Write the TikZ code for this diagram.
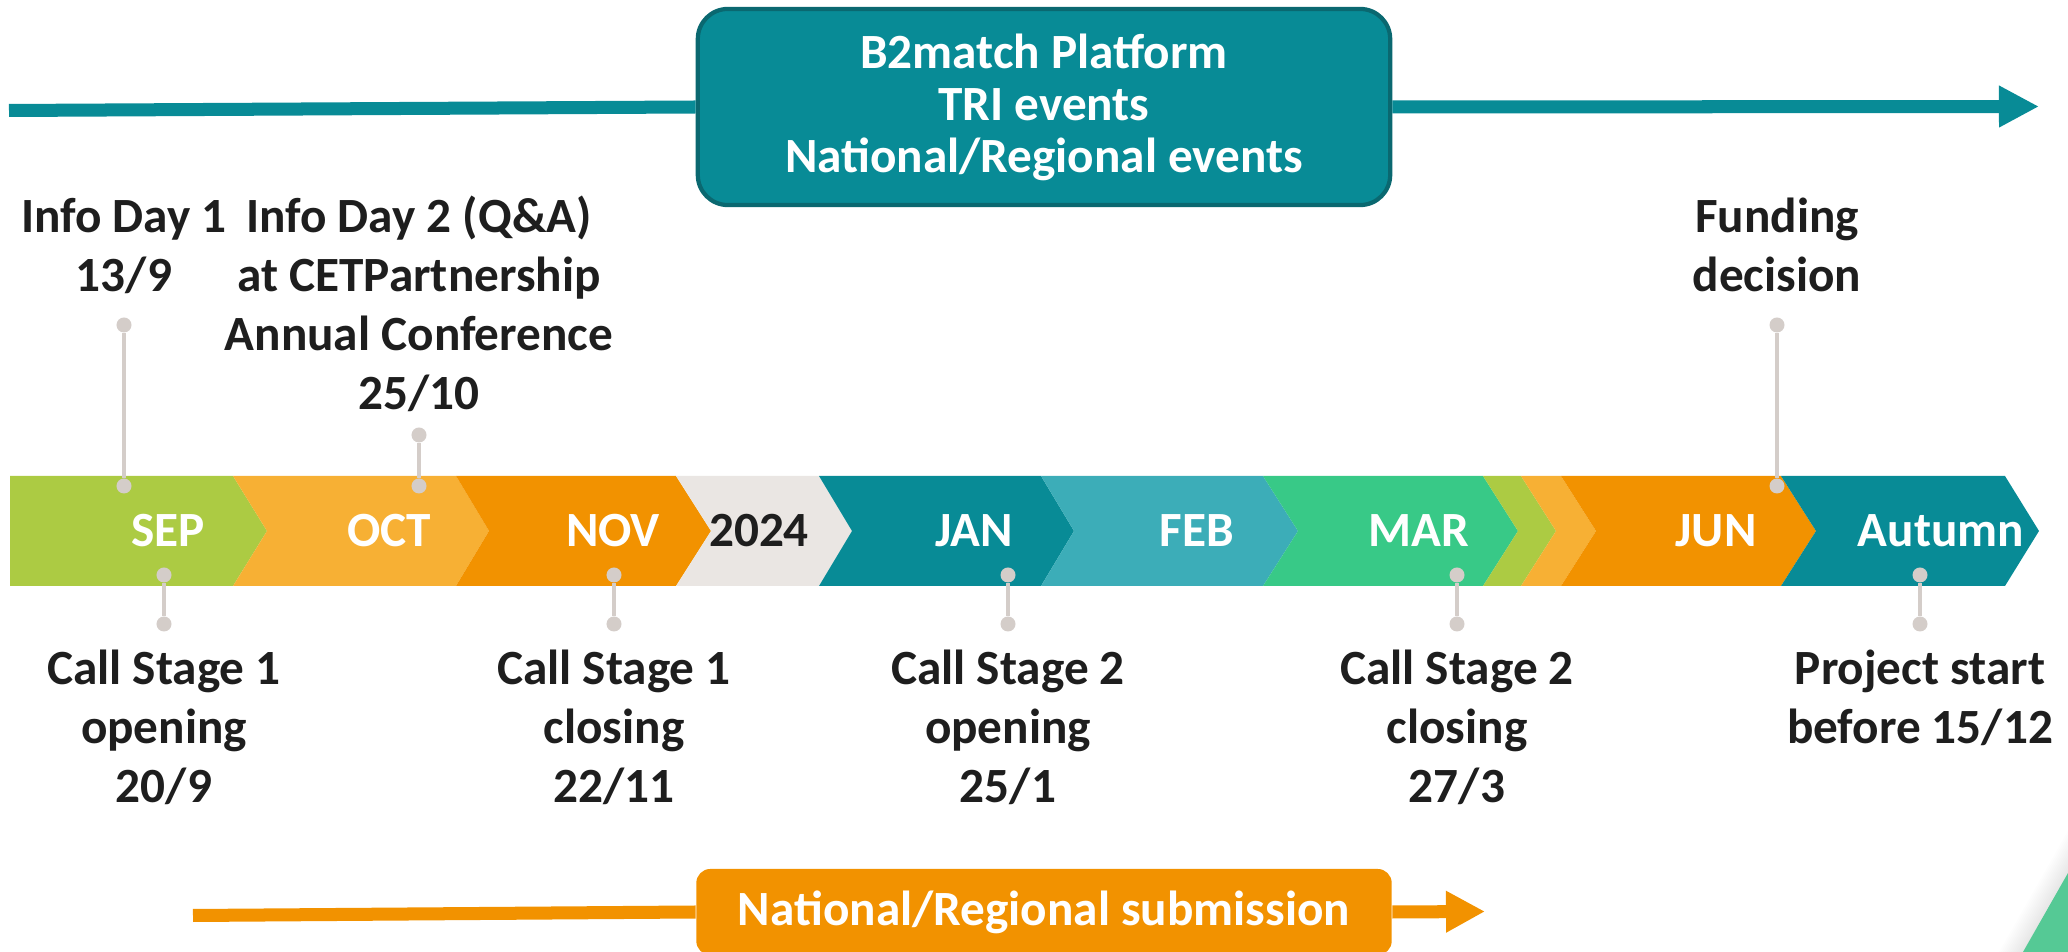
\documentclass[tikz,border=0pt]{standalone}
\usepackage{fontspec}
\setmainfont{Carlito}
\usetikzlibrary{arrows.meta}
\definecolor{tealD}{RGB}{8,139,150}
\definecolor{tealL}{RGB}{60,173,184}
\definecolor{tealB}{RGB}{10,104,112}
\definecolor{limeG}{RGB}{172,203,67}
\definecolor{orangeL}{RGB}{247,176,52}
\definecolor{orangeD}{RGB}{242,146,0}
\definecolor{grayL}{RGB}{234,230,227}
\definecolor{greenM}{RGB}{56,201,135}
\definecolor{pinG}{RGB}{212,205,201}
\definecolor{ink}{RGB}{30,30,30}
\definecolor{cornerG}{RGB}{85,201,149}
\begin{document}
\begin{tikzpicture}[x=0.01cm, y=-0.01cm,
		lbl/.style={font=\bfseries\fontsize{14}{16.8}\selectfont, text=ink, align=center, inner sep=0pt, anchor=base},
		mon/.style={font=\bfseries\fontsize{14}{16.8}\selectfont, text=white, inner sep=0pt, anchor=base},
		pindot/.style={circle, fill=pinG, inner sep=0pt, minimum size=0.15cm},
		pinline/.style={draw=pinG, line width=1pt},
		platbox/.style={draw=tealB, line width=1.2pt, fill=tealD, rounded corners=0.3cm, minimum width=6.92cm, minimum height=1.96cm, align=center, text=white, font=\bfseries\fontsize{14}{14.8}\selectfont},
		subbox/.style={fill=orangeD, rounded corners=0.14cm, minimum width=6.95cm, minimum height=0.86cm, inner sep=0pt, text=white, font=\bfseries\fontsize{14}{16.8}\selectfont},
		tealarrow/.style={draw=tealD, line width=0.13cm},
		orarrow/.style={draw=orangeD, line width=0.13cm}]
		\useasboundingbox (0,0) rectangle (2068,952);
		\foreach \l/\n/\c/\t/\col in {10/10/233/267/limeG, 233/267/456/489/orangeL, 456/489/676/711/orangeD, 676/711/819/852/grayL, 819/852/1041/1074/tealD, 1041/1074/1263/1298/tealL, 1263/1298/1483/1518/greenM, 1483/1518/1521/1556/limeG, 1521/1556/1561/1596/orangeL, 1561/1596/1781/1816/orangeD, 1781/1816/2005/2039/tealD}{
			\fill[\col] (\l,476) -- (\c,476) -- (\t,531) -- (\c,586) -- (\l,586) -- (\n,531) -- cycle;}
		\foreach \x/\txt/\tc [count=\i] in {168/SEP/white, 389/OCT/white, 613/NOV/white, 759/2024/ink, 974/JAN/white, 1197/FEB/white, 1419/MAR/white, 1716/JUN/white, 1941/Autumn/white}{
			\node[mon, text=\tc] (m\i) at (\x,547) {\txt};}
		\foreach \x/\ya/\yb [count=\i] in {124/325/486, 419/435/486, 1777/325/486, 164/575/624, 614/575/624, 1008/575/624, 1457/575/624, 1920/575/624}{
			\node[pindot] (pa\i) at (\x,\ya) {};
			\node[pindot] (pb\i) at (\x,\yb) {};
			\draw[pinline] (pa\i) -- (pb\i);}
		\node[lbl] (info1) at (124,292) {Info Day 1\\13/9};
		\node[lbl] (info2) at (419,410) {Info Day 2 (Q\&A)\\at CETPartnership\\Annual Conference\\25/10};
		\node[lbl] (fund) at (1777,292) {Funding\\decision};
		\node[lbl] (open1) at (164,803) {Call Stage 1\\opening\\20/9};
		\node[lbl] (close1) at (614,803) {Call Stage 1\\closing\\22/11};
		\node[lbl] (open2) at (1008,803) {Call Stage 2\\opening\\25/1};
		\node[lbl] (close2) at (1457,803) {Call Stage 2\\closing\\27/3};
		\node[lbl] (start) at (1920,744) {Project start\\before 15/12};
		\node[platbox] (plat) at (1044,107) {B2match Platform\\TRI events\\National/Regional events};
		\coordinate (tl) at (9,110.5);
		\coordinate (tr) at (2039,106.5);
		\draw[tealarrow] (tl) -- (plat.west);
		\draw[tealarrow, -{Triangle[length=0.40cm, width=0.39cm]}] (plat.east) -- (tr);
		\node[subbox] (sub) at (1044,912) {National/Regional submission};
		\coordinate (bl) at (193,915.5);
		\coordinate (br) at (1485,911.5);
		\draw[orarrow] (bl) -- (sub.west);
		\draw[orarrow, -{Triangle[length=0.39cm, width=0.39cm]}] (sub.east) -- (br);
		\foreach \s in {2, 4, ..., 24}{
			\fill[black, opacity=0.008] (2068,873-1.76*\s) -- (2023-\s,952) -- (2068,952) -- cycle;}
		\fill[cornerG] (2068,873) -- (2023,952) -- (2068,952) -- cycle;
\end{tikzpicture}
\end{document}
